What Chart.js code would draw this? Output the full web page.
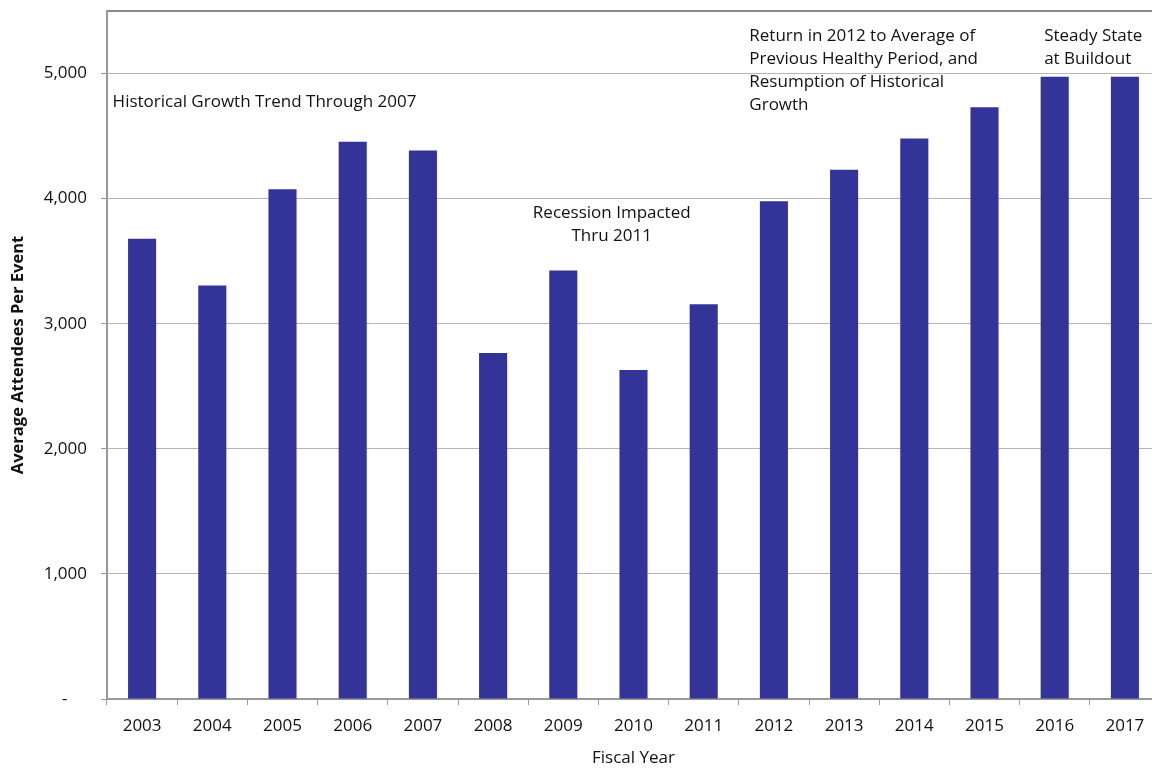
<!DOCTYPE html>
<html>
<head>
<meta charset="utf-8">
<script src="https://cdn.jsdelivr.net/npm/chart.js@4/dist/chart.umd.min.js"></script>
<style>
  html, body { margin: 0; padding: 0; background: #fff; overflow: hidden; }
  #wrap { width: 1152px; height: 768px; overflow: hidden; }
  #box { width: 1160px; height: 768px; }
</style>
</head>
<body>
<div id="wrap"><div id="box"><canvas id="chart"></canvas></div></div>
<script>
const years = ['2003', '2004', '2005', '2006', '2007', '2008', '2009', '2010',
               '2011', '2012', '2013', '2014', '2015', '2016', '2017'];
const attendees = [3680, 3305, 4075, 4455, 4385, 2765, 3425, 2630,
                   3155, 3980, 4230, 4480, 4730, 4975, 4975];
const yTicks = [0, 1000, 2000, 3000, 4000, 5000];
const yMax = 5500;

// text notes, anchored on category index (fractional) and value
const notes = [
  { lines: ['Historical Growth Trend Through 2007'], at: -0.42, value: 4770, align: 'left' },
  { lines: ['Recession Impacted', 'Thru 2011'], at: 6.69, value: 3880, align: 'center' },
  { lines: ['Return in 2012 to Average of', 'Previous Healthy Period, and',
            'Resumption of Historical', 'Growth'], at: 8.65, value: 5295, align: 'left' },
  { lines: ['Steady State', 'at Buildout'], at: 12.85, value: 5295, align: 'left' }
];

const FONT = '"Open Sans", "DejaVu Sans", sans-serif';

const notesPlugin = {
  id: 'notes',
  afterDatasetsDraw(chart) {
    const ctx = chart.ctx;
    const xs = chart.scales.x, ys = chart.scales.y;
    ctx.save();
    ctx.font = '17px ' + FONT;
    ctx.fillStyle = '#111';
    ctx.textBaseline = 'middle';
    notes.forEach(n => {
      ctx.textAlign = n.align;
      const x = xs.getPixelForValue(n.at);
      const y = ys.getPixelForValue(n.value);
      n.lines.forEach((line, i) => ctx.fillText(line, x, y + i * 23));
    });
    ctx.restore();
  }
};

new Chart(document.getElementById('chart'), {
  type: 'bar',
  data: {
    labels: years,
    datasets: [{
      data: attendees,
      backgroundColor: '#343397',
      barPercentage: 0.4,
      categoryPercentage: 1.0
    }]
  },
  options: {
    responsive: true,
    maintainAspectRatio: false,
    animation: false,
    layout: { padding: { top: 11, right: 0, left: 0, bottom: 0 } },
    plugins: {
      legend: { display: false },
      tooltip: { enabled: false }
    },
    scales: {
      x: {
        afterFit(scale) { scale.height = 69; },
        grid: {
          drawOnChartArea: false,
          drawTicks: true,
          tickLength: 6,
          tickColor: '#999',
          offset: true
        },
        border: { color: '#999', width: 2 },
        ticks: { color: '#111', font: { family: FONT, size: 17 }, padding: 11 },
        title: {
          display: true,
          text: 'Fiscal Year',
          color: '#111',
          font: { family: FONT, size: 17 },
          padding: { top: 0, bottom: 0 }
        }
      },
      y: {
        min: 0,
        max: yMax,
        afterFit(scale) {
          scale.width = 107;
          scale.paddingTop = 0;
          scale.paddingBottom = 0;
        },
        afterBuildTicks(scale) {
          scale.ticks = yTicks.concat([yMax]).map(v => ({ value: v }));
        },
        grid: {
          color: c => c.tick && c.tick.value === yMax ? '#8a8a8a' : '#b5b5b5',
          lineWidth: c => c.tick && c.tick.value === yMax ? 2 : 1,
          tickLength: 6,
          tickColor: c => c.tick && c.tick.value === yMax ? 'rgba(0,0,0,0)' : '#999'
        },
        border: { color: '#999', width: 2 },
        ticks: {
          color: '#111',
          font: { family: FONT, size: 17 },
          padding: 14,
          callback: v => v === yMax ? '' : (v === 0 ? '-\u2007\u2007' : v.toLocaleString('en-US'))
        },
        title: {
          display: true,
          text: 'Average Attendees Per Event',
          color: '#111',
          font: { family: FONT, size: 16.5, weight: 'bold' },
          padding: { top: 8, bottom: 0 }
        }
      }
    }
  },
  plugins: [notesPlugin]
});
</script>
</body>
</html>
